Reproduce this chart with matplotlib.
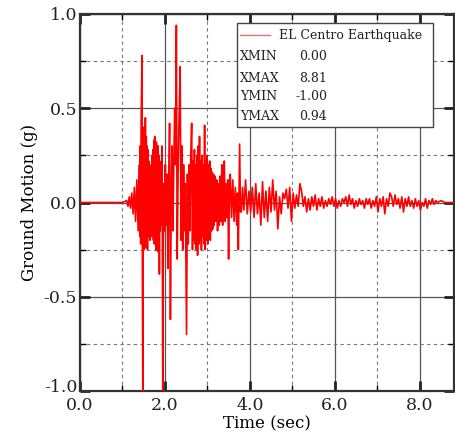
import matplotlib
matplotlib.use("Agg")
import matplotlib.pyplot as plt
from matplotlib.lines import Line2D
from matplotlib.patches import Rectangle
from matplotlib.ticker import MultipleLocator
from matplotlib.transforms import ScaledTranslation

# ---- data ----
time_sec = [
    # quiet start and onset
    0.00, 1.00, 1.10, 1.13, 1.16, 1.19, 1.22, 1.25, 1.28, 1.31, 1.34, 1.37,
    # strong shaking 1.40 - 1.95
    1.40, 1.41, 1.42, 1.43, 1.44, 1.45, 1.46, 1.47, 1.48, 1.49, 1.50, 1.51,
    1.52, 1.53, 1.54, 1.55, 1.56, 1.57, 1.58, 1.59, 1.60, 1.61, 1.62, 1.63,
    1.64, 1.65, 1.66, 1.67, 1.68, 1.69, 1.70, 1.71, 1.72, 1.73, 1.74, 1.75,
    1.76, 1.77, 1.78, 1.79, 1.80, 1.81, 1.82, 1.83, 1.84, 1.85, 1.86, 1.87,
    1.88, 1.89, 1.90, 1.91, 1.92, 1.93, 1.94, 1.95,
    # large pulses 1.97 - 2.63
    1.97, 1.99, 2.01, 2.03, 2.05, 2.07, 2.09, 2.11, 2.13, 2.15, 2.17, 2.19,
    2.21, 2.23, 2.25, 2.27, 2.29, 2.31, 2.33, 2.36, 2.38, 2.40, 2.42, 2.44,
    2.46, 2.48, 2.51, 2.53, 2.55, 2.57, 2.59, 2.61, 2.63, 2.65,
    # dense 2.66 - 3.16
    2.665, 2.68, 2.695, 2.71, 2.725, 2.74, 2.755, 2.77, 2.785, 2.80, 2.815,
    2.83, 2.845, 2.86, 2.875, 2.89, 2.905, 2.92, 2.935, 2.95, 2.965, 2.98,
    2.995, 3.01, 3.025, 3.04, 3.055, 3.07, 3.085, 3.10, 3.115, 3.13, 3.145,
    3.16,
    # decay 3.18 - 3.78
    3.18, 3.20, 3.22, 3.24, 3.26, 3.28, 3.30, 3.32, 3.34, 3.36, 3.38, 3.40,
    3.42, 3.44, 3.46, 3.48, 3.50, 3.52, 3.54, 3.57, 3.60, 3.63, 3.66, 3.69,
    3.71, 3.73, 3.76, 3.78,
    # coda 3.80 - 8.81
    3.80, 3.83, 3.86, 3.90, 3.94, 3.98, 4.02, 4.06, 4.10, 4.14, 4.18, 4.22,
    4.26, 4.30, 4.34, 4.38, 4.42, 4.46, 4.50, 4.54, 4.58, 4.62, 4.66, 4.70,
    4.74, 4.78, 4.82, 4.86, 4.90, 4.94, 4.98, 5.02, 5.06, 5.10, 5.14, 5.18,
    5.22, 5.26, 5.30, 5.34, 5.38, 5.42, 5.46, 5.50, 5.54, 5.58, 5.62, 5.66,
    5.70, 5.74, 5.78, 5.82, 5.86, 5.90, 5.94, 5.98, 6.02, 6.06, 6.10, 6.14,
    6.18, 6.22, 6.26, 6.30, 6.34, 6.38, 6.42, 6.46, 6.50, 6.54, 6.58, 6.62,
    6.66, 6.70, 6.74, 6.78, 6.82, 6.86, 6.90, 6.94, 6.98, 7.02, 7.06, 7.10,
    7.14, 7.18, 7.22, 7.26, 7.30, 7.34, 7.38, 7.42, 7.46, 7.50, 7.54, 7.58,
    7.62, 7.66, 7.70, 7.74, 7.78, 7.82, 7.86, 7.90, 7.94, 7.98, 8.02, 8.06,
    8.10, 8.14, 8.18, 8.22, 8.26, 8.30, 8.34, 8.38, 8.42, 8.50, 8.60, 8.81,
]
ground_motion_g = [
    # quiet start and onset
    0.00, 0.00, 0.01, -0.02, 0.03, -0.03, 0.05, -0.06, 0.08, -0.10, 0.12, -0.15,
    # strong shaking 1.40 - 1.95
    0.20, -0.18, 0.30, -0.22, 0.42, 0.60, 0.78, -0.40, -1.00, 0.10, 0.40, -0.25,
    0.38, -0.20, 0.45, -0.24, 0.35, -0.22, 0.30, -0.25, 0.28, -0.18, 0.22, -0.15,
    0.18, -0.20, 0.15, -0.12, 0.20, -0.18, 0.25, -0.15, 0.28, -0.20, 0.33, -0.22,
    0.35, -0.18, 0.30, -0.25, 0.32, -0.20, 0.28, -0.26, 0.30, -0.22, 0.25, -0.38,
    0.22, -0.15, 0.18, -0.12, 0.10, 0.30, -0.20, -1.00,
    # large pulses 1.97 - 2.63
    0.10, -0.15, 0.20, -0.12, 0.15, -0.35, 0.10, 0.42, -0.62, 0.05, 0.30, -0.15,
    0.20, 0.50, 0.20, 0.94, -0.30, 0.15, 0.40, 0.72, -0.20, 0.30, -0.25, 0.20,
    -0.15, 0.10, -0.70, 0.15, -0.22, 0.20, -0.15, 0.25, 0.42, -0.25,
    # dense 2.66 - 3.16
    0.22, -0.20, 0.28, -0.22, 0.20, -0.25, 0.25, -0.28, 0.30, -0.22, 0.35,
    -0.20, 0.22, -0.25, 0.25, -0.18, 0.20, -0.22, 0.41, -0.25, 0.22, -0.20,
    0.25, -0.22, 0.20, -0.18, 0.22, -0.20, 0.18, -0.15, 0.16, -0.14, 0.15,
    -0.12,
    # decay 3.18 - 3.78
    0.14, -0.10, 0.12, -0.15, 0.10, -0.12, 0.14, -0.10, 0.20, -0.12, 0.15, 0.22,
    -0.10, 0.10, -0.08, 0.12, -0.30, 0.05, 0.15, -0.08, 0.12, -0.10, 0.08, -0.12,
    0.05, -0.25, 0.31, -0.05,
    # coda 3.80 - 8.81
    -0.05, 0.08, -0.04, 0.12, -0.06, 0.06, -0.05, 0.08, -0.08, 0.10, -0.06, 0.05,
    -0.12, 0.11, -0.08, 0.06, -0.10, 0.08, -0.05, 0.12, -0.04, 0.06, -0.14, 0.03,
    -0.06, 0.05, 0.02, 0.07, -0.03, 0.08, -0.10, 0.05, -0.03, 0.04, -0.02, 0.10,
    0.06, -0.02, 0.03, -0.05, 0.02, -0.04, 0.03, -0.02, 0.04, -0.04, 0.02, -0.02,
    0.03, -0.03, 0.01, -0.02, 0.02, -0.01, 0.03, -0.02, 0.02, -0.03, 0.01, -0.02,
    0.02, 0.00, 0.03, -0.02, 0.04, -0.01, 0.02, -0.03, 0.01, -0.02, 0.02, -0.01,
    0.01, -0.03, 0.02, -0.01, 0.02, -0.03, 0.01, -0.02, 0.03, -0.05, 0.02, -0.02,
    0.03, -0.06, 0.02, -0.02, 0.05, 0.03, -0.02, 0.04, -0.01, 0.02, -0.03, 0.03,
    -0.05, 0.02, -0.02, 0.03, -0.02, 0.01, -0.03, 0.02, -0.02, 0.01, -0.04, 0.00,
    -0.02, 0.02, -0.03, 0.01, -0.01, 0.02, -0.01, 0.01, 0.00, 0.01, 0.00, 0.00,
]
series_label = "EL Centro Earthquake"
x_ticks = [0.0, 2.0, 4.0, 6.0, 8.0]
y_ticks = [-1.0, -0.5, 0.0, 0.5, 1.0]

# ---- figure ----
FONT = "DejaVu Serif"
plt.rcParams["font.family"] = FONT

fig = plt.figure(figsize=(4.55, 4.38), dpi=100)
W, H = 455, 438
ax = fig.add_axes([80 / W, 47 / H, 374 / W, 377 / H])

ax.plot(time_sec, ground_motion_g, color="#ff0000", lw=1.2, zorder=3)

ax.set_xlim(0, max(time_sec))
ax.set_ylim(-1.0, 1.0)
ax.set_xticks(x_ticks)
ax.set_yticks(y_ticks)
ax.set_xticklabels([f"{v:.1f}" for v in x_ticks])
ax.set_yticklabels([f"{v:.1f}" for v in y_ticks])
ax.xaxis.set_minor_locator(MultipleLocator(1.0))
ax.yaxis.set_minor_locator(MultipleLocator(0.25))

ax.grid(which="major", color="#555555", lw=0.9, ls="-", zorder=1)
ax.grid(which="minor", color="#777777", lw=0.8, ls=(0, (3, 3)), zorder=1)
ax.set_axisbelow(True)

ax.tick_params(which="major", direction="in", length=7, width=2.0,
               top=True, right=True, labelsize=12.5, pad=2, colors="#222222")
ax.tick_params(axis="x", which="major", pad=4)
ax.tick_params(which="minor", direction="in", length=4, width=1.0,
               top=True, right=True)
for s in ax.spines.values():
    s.set_linewidth(1.6)
    s.set_color("#333333")

# nudge the bottom y label up, as in the reference
bottom_lab = ax.get_yticklabels()[0]
bottom_lab.set_transform(bottom_lab.get_transform() +
                         ScaledTranslation(0, 6 / 100, fig.dpi_scale_trans))

ax.set_xlabel("Time (sec)", fontsize=12, labelpad=1)
ax.set_ylabel("Ground Motion (g)", fontsize=12, labelpad=4)

# ---- legend-style info box ----
def ax_pt(px, py):
    """Convert reference pixel position to axes fraction."""
    return ((px - 80) / 374, (391 - py) / 377)

bx0, by0 = ax_pt(237, 127)
bx1, by1 = ax_pt(433, 23)
ax.add_patch(Rectangle((bx0, by0), bx1 - bx0, by1 - by0, transform=ax.transAxes,
                       facecolor="white", edgecolor="#444444", lw=1.0, zorder=5))
lx0, ly = ax_pt(240, 35)
lx1, _ = ax_pt(270, 35)
ax.add_line(Line2D([lx0, lx1], [ly, ly], transform=ax.transAxes,
                   color="#ff6666", lw=1.0, zorder=6))
tx, _ = ax_pt(279, 35)
ax.text(tx, ly, series_label, transform=ax.transAxes, fontsize=9,
        va="center", ha="left", zorder=6, color="#222222")

stats = [("XMIN", min(time_sec)), ("XMAX", max(time_sec)),
         ("YMIN", min(ground_motion_g)), ("YMAX", max(ground_motion_g))]
rows_y = [57, 78, 97, 117]
for (name, val), ry in zip(stats, rows_y):
    nx, ny = ax_pt(240, ry)
    vx, _ = ax_pt(327, ry)
    ax.text(nx, ny, name, transform=ax.transAxes, fontsize=9,
            va="center", ha="left", zorder=6, color="#222222")
    ax.text(vx, ny, f"{val:.2f}", transform=ax.transAxes, fontsize=9,
            va="center", ha="right", zorder=6, color="#222222")

fig.savefig("out.png", dpi=100)
